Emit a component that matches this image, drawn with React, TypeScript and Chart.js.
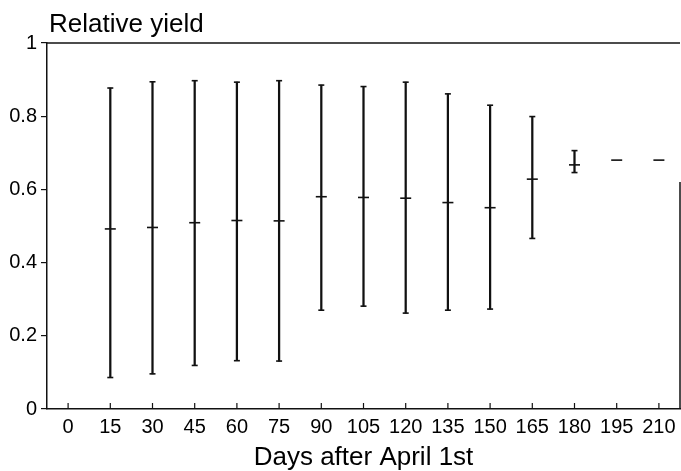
import React, { useEffect, useRef } from "react";
import { Chart, registerables } from "chart.js";

Chart.register(...registerables);

// ---- data ----
const DAYS = [15, 30, 45, 60, 75, 90, 105, 120, 135, 150, 165, 180, 195, 210];
const MEAN = [0.492, 0.496, 0.509, 0.515, 0.514, 0.58, 0.578, 0.576, 0.564, 0.55, 0.628, 0.667, 0.68, 0.68];
const LOW = [0.086, 0.096, 0.119, 0.132, 0.131, 0.27, 0.281, 0.262, 0.27, 0.273, 0.466, 0.646, null, null];
const HIGH = [0.877, 0.894, 0.897, 0.893, 0.897, 0.885, 0.881, 0.893, 0.861, 0.83, 0.799, 0.706, null, null];
const X_TICKS = [0, 15, 30, 45, 60, 75, 90, 105, 120, 135, 150, 165, 180, 195, 210];
const Y_TICKS = [0, 0.2, 0.4, 0.6, 0.8, 1];
const X_MIN = -7.5;
const X_MAX = 217.5;
const RIGHT_FRAME_FROM = 0.62;
const Y_TITLE = "Relative yield";
const X_TITLE = "Days after April 1st";

const INK = "#111";
const FONT = "'Liberation Sans', Arial, Helvetica, sans-serif";

const framePlugin = {
  id: "frame",
  afterDatasetsDraw(chart: any) {
    const { ctx, chartArea, scales } = chart;
    const x = scales.x;
    const y = scales.y;
    ctx.save();
    ctx.strokeStyle = INK;
    ctx.lineWidth = 1.5;
    // top line
    const yTop = y.getPixelForValue(1);
    ctx.beginPath();
    ctx.moveTo(chartArea.left, yTop);
    ctx.lineTo(chartArea.right, yTop);
    ctx.stroke();
    // partial right line
    ctx.beginPath();
    ctx.moveTo(chartArea.right, y.getPixelForValue(RIGHT_FRAME_FROM));
    ctx.lineTo(chartArea.right, y.getPixelForValue(0));
    ctx.stroke();
    // inward x ticks
    const yb = y.getPixelForValue(0);
    ctx.lineWidth = 1.2;
    for (const v of X_TICKS) {
      const px = x.getPixelForValue(v);
      ctx.beginPath();
      ctx.moveTo(px, yb);
      ctx.lineTo(px, yb - 6);
      ctx.stroke();
    }
    // y title at top-left
    ctx.fillStyle = "#000";
    ctx.font = `26px ${FONT}`;
    ctx.textBaseline = "alphabetic";
    ctx.textAlign = "left";
    ctx.fillText(Y_TITLE, chartArea.left + 2, chartArea.top - 11);
    ctx.restore();
  },
};

export default function App() {
  const ref = useRef<HTMLCanvasElement | null>(null);

  useEffect(() => {
    if (!ref.current) return;
    const rangePts = DAYS.map((d, i) => (LOW[i] == null || HIGH[i] == null ? null : { x: d, y: [LOW[i], HIGH[i]] })).filter(Boolean);
    const capPts: any[] = [];
    DAYS.forEach((d, i) => {
      if (LOW[i] != null) capPts.push({ x: d, y: LOW[i] });
      if (HIGH[i] != null) capPts.push({ x: d, y: HIGH[i] });
    });
    const meanPts = DAYS.map((d, i) => ({ x: d, y: MEAN[i] }));

    const chart = new Chart(ref.current, {
      type: "bar",
      data: {
        datasets: [
          {
            type: "bar",
            data: rangePts as any,
            backgroundColor: INK,
            borderWidth: 0,
            barThickness: 1.6,
          } as any,
          {
            type: "scatter",
            data: capPts,
            pointStyle: "line",
            radius: 3,
            borderColor: INK,
            borderWidth: 1.6,
            backgroundColor: INK,
          } as any,
          {
            type: "scatter",
            data: meanPts,
            pointStyle: "line",
            radius: 5.5,
            borderColor: INK,
            borderWidth: 1.6,
            backgroundColor: INK,
          } as any,
        ],
      },
      options: {
        responsive: false,
        animation: false,
        layout: { autoPadding: false, padding: { top: 43, right: 1, left: 0, bottom: 0 } },
        plugins: { legend: { display: false }, tooltip: { enabled: false }, title: { display: false } },
        scales: {
          x: {
            type: "linear",
            min: X_MIN,
            max: X_MAX,
            offset: false,
            afterBuildTicks: (s: any) => {
              s.ticks = X_TICKS.map((value) => ({ value }));
            },
            afterFit: (s: any) => {
              s.height = 62;
              s.paddingLeft = 0;
              s.paddingRight = 0;
            },
            grid: { display: false, drawTicks: false },
            border: { display: true, color: INK, width: 1.5 },
            ticks: {
              color: "#000",
              font: { family: FONT, size: 20 },
              padding: 6,
              maxRotation: 0,
              autoSkip: false,
              callback: (v: any) => String(v),
            },
            title: {
              display: true,
              text: X_TITLE,
              color: "#000",
              font: { family: FONT, size: 26, lineHeight: 1 },
              padding: { top: 0, bottom: 0 },
            },
          },
          y: {
            type: "linear",
            min: 0,
            max: 1,
            afterBuildTicks: (s: any) => {
              s.ticks = Y_TICKS.map((value) => ({ value }));
            },
            afterFit: (s: any) => {
              s.width = 47;
              s.paddingTop = 0;
              s.paddingBottom = 0;
            },
            grid: { display: true, drawOnChartArea: false, drawTicks: true, tickLength: 6, color: INK, lineWidth: 1.2 },
            border: { display: true, color: INK, width: 1.5 },
            ticks: {
              color: "#000",
              font: { family: FONT, size: 20 },
              padding: 4,
              callback: (v: any) => String(v),
            },
          },
        },
      } as any,
      plugins: [framePlugin],
    });
    return () => chart.destroy();
  }, []);

  return (
    <div style={{ position: "absolute", left: 0, top: 0, width: 681, height: 471, background: "#fff" }}>
      <canvas ref={ref} width={681} height={471} style={{ display: "block", width: 681, height: 471 }} />
    </div>
  );
}
